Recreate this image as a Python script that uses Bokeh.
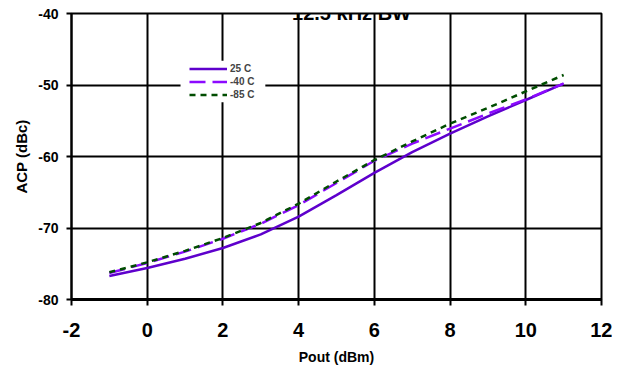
from bokeh.plotting import figure
from bokeh.models import Range1d, Legend, LegendItem, Label, BoxAnnotation, FixedTicker, PrintfTickFormatter
from bokeh.embed import file_html
from bokeh.resources import INLINE

# data
pout = [-1, 0, 1, 2, 3, 4, 5, 6, 7, 8, 9, 10, 11]
acp_25 = [-76.7, -75.6, -74.3, -72.8, -70.9, -68.4, -65.4, -62.3, -59.4, -56.8, -54.4, -52.1, -49.8]
acp_m40 = [-76.3, -74.9, -73.3, -71.5, -69.4, -66.8, -63.7, -60.6, -58.2, -56.1, -54.0, -52.0, -49.8]
acp_85 = [-76.2, -74.8, -73.2, -71.4, -69.3, -66.6, -63.5, -60.5, -57.9, -55.4, -53.2, -50.9, -48.6]
series_names = ["25 C", "-40 C", "-85 C"]
x_ticks = [-2, 0, 2, 4, 6, 8, 10, 12]
y_ticks = [-80, -70, -60, -50, -40]
title_text = "12.5 kHz BW"

FONT = "Liberation Sans"

p = figure(width=620, height=376, output_backend="svg", toolbar_location=None,
           x_range=Range1d(-2, 12), y_range=Range1d(-80, -40),
           min_border_left=79, min_border_right=11, min_border_top=21, min_border_bottom=69,
           margin=(-8, -8, -8, -8))
p.background_fill_color = "white"
p.border_fill_color = "white"
p.outline_line_color = "black"
p.outline_line_width = 2

r1 = p.line(pout, acp_25, line_color="#5E00CC", line_width=2.5)
r2 = p.line(pout, acp_m40, line_color="#8C0AFF", line_width=2.5, line_dash="16 7")
r3 = p.line(pout, acp_85, line_color="#004D00", line_width=2.5, line_dash="6 5")

for ax in (p.xaxis[0], p.yaxis[0]):
    ax.axis_line_color = "black"
    ax.major_tick_line_color = "black"
    ax.major_tick_line_width = 2
    ax.minor_tick_line_color = None
    ax.major_tick_in = 0
    ax.major_label_text_font = FONT
    ax.major_label_text_font_style = "bold"
    ax.major_label_text_color = "black"
    ax.axis_label_text_font = FONT
    ax.axis_label_text_font_style = "bold"
    ax.axis_label_text_color = "black"
    ax.formatter = PrintfTickFormatter(format="%d")

p.xaxis.ticker = FixedTicker(ticks=x_ticks)
p.yaxis.ticker = FixedTicker(ticks=y_ticks)
p.xaxis.axis_line_width = 3
p.yaxis.axis_line_width = 2
p.xaxis.major_tick_out = 6
p.yaxis.major_tick_out = 5
p.xaxis.major_label_text_font_size = "20px"
p.yaxis.major_label_text_font_size = "14px"
p.xaxis.major_label_standoff = 17
p.yaxis.major_label_standoff = 8
p.xaxis.axis_label = "Pout (dBm)"
p.yaxis.axis_label = "ACP (dBc)"
p.xaxis.axis_label_text_font_size = "14px"
p.yaxis.axis_label_text_font_size = "15px"
p.xaxis.axis_label_standoff = 9
p.yaxis.axis_label_standoff = 5

p.grid.grid_line_color = "black"
p.grid.grid_line_width = 2
p.grid.grid_line_alpha = 1

box = BoxAnnotation(left=0.88, right=3.12, top=-46.6, bottom=-52.4,
                    fill_color="white", fill_alpha=1, line_color=None)
p.add_layout(box)

legend = Legend(items=[LegendItem(label=series_names[0], renderers=[r1]),
                       LegendItem(label=series_names[1], renderers=[r2]),
                       LegendItem(label=series_names[2], renderers=[r3])],
                location=(118, 198), padding=1, margin=0, spacing=0,
                glyph_width=38, glyph_height=13, label_height=13, label_standoff=3,
                label_text_font=FONT, label_text_font_style="bold", label_text_font_size="10px",
                background_fill_alpha=0, border_line_color=None)
p.add_layout(legend)

title = Label(x=280, y=287, x_units="screen", y_units="screen", text=title_text,
              text_align="center", text_baseline="alphabetic",
              text_font=FONT, text_font_style="bold", text_font_size="20px", text_color="black")
p.add_layout(title)

open("out.html", "w").write(file_html(p, INLINE))
